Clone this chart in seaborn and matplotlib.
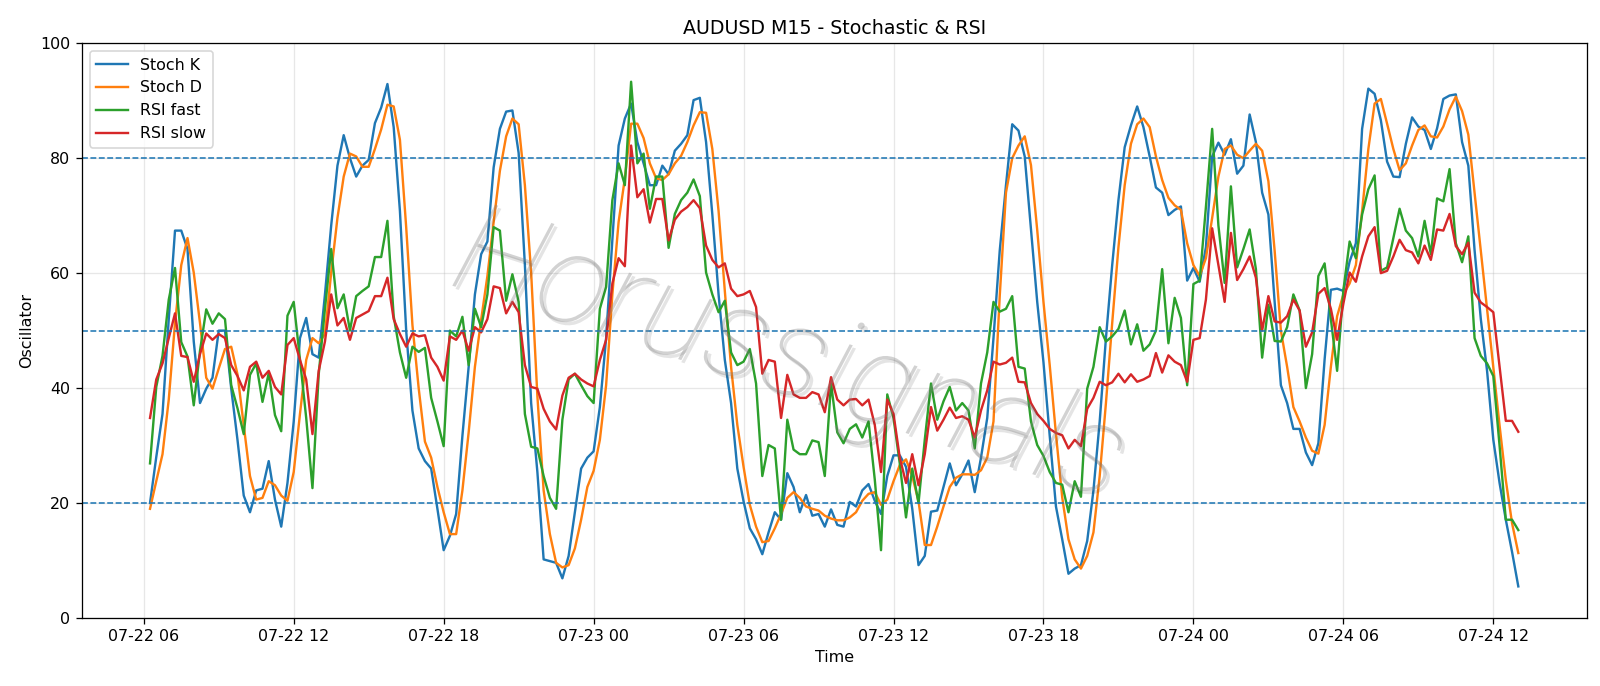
import pandas as pd
import matplotlib
matplotlib.use("Agg")
import matplotlib.pyplot as plt
import matplotlib.dates as mdates
import matplotlib.patheffects as pe
import seaborn as sns

# AUDUSD M15 (220 barras a partir de 07-22 06:15)
stoch_k = [20, 28, 35.5, 52, 67.4, 67.4, 64.2, 48.1, 37.4, 39.9,
           41.8, 50, 50, 39.9, 31, 21.3, 18.4, 22.2, 22.5, 27.3,
           20.6, 15.9, 23.5, 34.2, 48.7, 52.2, 45.9, 45.3, 56.3, 68.3,
           78.7, 84, 80, 76.8, 78.7, 79.7, 86.1, 88.8, 92.9, 85.4,
           70.8, 50, 36.1, 29.5, 27.3, 26, 19, 11.8, 14.3, 18.1,
           31.7, 43.7, 56.3, 63.3, 65.5, 78.4, 85.1, 88.1, 88.3, 80.9,
           61.4, 37.4, 25.4, 10.2, 9.9, 9.6, 6.9, 10.8, 18.4, 26,
           27.9, 29, 36.7, 48.7, 65.8, 82.2, 86.9, 89.5, 82.8, 79.1,
           75.3, 75.3, 78.7, 77.2, 81.3, 82.5, 84, 90.1, 90.5, 82.8,
           70.2, 56.3, 44.9, 37.4, 26, 20.3, 15.6, 13.7, 11.1, 14.9,
           18.4, 17.1, 25.2, 22.8, 18.4, 21.4, 17.8, 18.1, 15.9, 18.9,
           16.2, 15.9, 20.2, 19.4, 22.2, 23.3, 20.4, 18.1, 24.7, 28.3,
           28.3, 26.3, 19, 9.2, 10.8, 18.5, 18.7, 22.8, 26.9, 23.1,
           25, 27.4, 21.9, 27.9, 34.8, 48.7, 63.9, 75.3, 85.9, 84.8,
           80.3, 67.7, 55, 44.5, 31.7, 19.4, 13.7, 7.7, 8.6, 9.2,
           13.4, 22.2, 34.2, 48.7, 61.4, 72.7, 81.9, 85.7, 89, 85.4,
           80.3, 74.9, 74, 70.1, 71, 71.6, 58.7, 60.9, 58.5, 64.5,
           80.3, 82.7, 80.6, 83.3, 77.3, 78.7, 87.6, 82.8, 74, 70.2,
           55, 40.5, 37.4, 32.9, 32.9, 28.8, 26.6, 30.4, 45, 57.1,
           57.3, 56.9, 62, 65.2, 85.1, 92.1, 91.2, 86.6, 79.4, 76.8,
           76.7, 82.5, 87.1, 85.5, 84.9, 81.6, 85.2, 90.3, 90.9, 91.1,
           82.8, 78.7, 64, 52, 43, 31, 23.5, 17.1, 11.5, 5.5]

stoch_d = [19, 23.8, 28.5, 38, 51.3, 61.4, 66.1, 60.1, 51.3, 41.8,
           39.9, 43.4, 46.8, 47.2, 42.4, 33.6, 24.7, 20.6, 20.9, 23.8,
           23.1, 21.3, 20.4, 25.4, 35.5, 44.9, 48.7, 47.8, 49.4, 60.1,
           69.6, 76.8, 80.8, 80.3, 78.5, 78.5, 81.6, 85, 89.3, 89,
           83.2, 68, 51, 40, 30.7, 27.9, 22.8, 18.4, 14.6, 14.6,
           22.2, 32.3, 43.7, 51.9, 59.5, 68.9, 77.8, 83.8, 86.9, 85.9,
           75.3, 60.1, 38.6, 22.2, 14.6, 9.6, 8.8, 9.2, 12.1, 17.1,
           22.8, 25.6, 31, 40.5, 56.3, 68.9, 76.5, 86, 86, 83.5,
           79.1, 76.5, 76.2, 77.2, 79.1, 80.4, 82.8, 85.7, 88, 87.9,
           81.6, 70.8, 56.9, 43.7, 33.6, 26.3, 19.7, 15.9, 13.2, 13.4,
           15.6, 18.1, 20.9, 21.9, 20.9, 19.4, 19, 18.7, 17.8, 17.3,
           17, 17, 17.5, 18.4, 20.4, 21.6, 21.9, 19.7, 20.6, 23.8,
           26.6, 27.6, 24.7, 20.3, 12.7, 12.7, 15.9, 19.4, 22.8, 24.4,
           25, 25, 24.9, 25.7, 27.9, 34.2, 56, 74, 80, 82.2,
           83.8, 78.8, 67.5, 55, 44, 32, 21, 13.7, 10.2, 8.6,
           10.8, 14.9, 24.7, 37.4, 51.3, 64.5, 75.3, 82.5, 85.9, 86.9,
           85.4, 80.3, 76.2, 73.1, 71.8, 71, 65.2, 61.4, 59.5, 62.6,
           69.6, 76.8, 81.6, 82.2, 80.6, 80, 81.3, 82.5, 81.3, 76,
           63.9, 50, 43.7, 36.7, 34.2, 31.4, 29.1, 28.6, 33.6, 43.7,
           52.5, 56.3, 58.2, 61.4, 70.8, 81.6, 89.5, 90.3, 86, 81.6,
           77.9, 79.1, 82.2, 84.9, 85.7, 83.8, 83.6, 85.5, 88.5, 90.7,
           88.2, 84.1, 74, 63.8, 53.7, 43.6, 33.5, 24, 16.5, 11.3]

rsi_fast = [26.9, 40.2, 45.6, 55.4, 60.9, 48, 45.5, 37, 46.5, 53.7,
            51.2, 53, 52, 40.5, 36.5, 32, 42.3, 44.3, 37.6, 42.6,
            35.3, 32.5, 52.6, 55, 45, 34.8, 22.6, 42.4, 53.8, 64.2,
            53.9, 56.3, 50, 56, 56.9, 57.7, 62.8, 62.8, 69.1, 52.5,
            46.2, 41.8, 47.2, 46.3, 47, 38.3, 34.2, 29.9, 50, 49,
            52.4, 44, 53.8, 50.6, 56.3, 68, 67.4, 55.2, 59.8, 55,
            35.5, 29.8, 29.5, 24.7, 20.9, 19, 34.5, 41.5, 42.5, 40.5,
            38.6, 37.4, 53.8, 57.6, 72.7, 79.1, 75.3, 93.3, 79.1, 80.8,
            71.2, 76.8, 76.8, 64.4, 70.3, 72.7, 74, 76.3, 73.4, 60.1,
            56.3, 53.2, 55.2, 46.2, 44, 44.6, 46.8, 40.8, 24.7, 30.1,
            29.5, 17.1, 34.5, 29.3, 28.5, 28.5, 30.9, 30.6, 24.7, 40.8,
            32.3, 30.4, 32.9, 33.7, 31.4, 34.2, 24.1, 11.8, 38.9, 34.8,
            26.9, 17.5, 26, 20, 31, 40.8, 34.5, 37.7, 40.2, 36.1,
            37.4, 36.1, 29.5, 40.8, 46.2, 55, 53.3, 53.8, 56, 43.7,
            43.4, 34.2, 30.1, 28.2, 25.4, 23.5, 23.2, 18.4, 23.8, 21.1,
            39.9, 43.7, 50.6, 48.1, 49, 50.3, 53.5, 47.6, 51.1, 46.5,
            47.6, 50, 60.7, 47.8, 55.7, 52.2, 40.5, 58.1, 58.7, 71.5,
            85.1, 68.3, 58.3, 75.1, 61, 64.2, 67.6, 60.7, 45.3, 54.5,
            48.2, 48.1, 50.6, 56.3, 53.5, 40, 45.9, 59.5, 61.7, 52,
            43, 57, 65.5, 62.6, 70.2, 74.6, 77, 60.4, 61, 66.1,
            71.2, 67.4, 66.1, 62.9, 69.1, 63.3, 73, 72.5, 78.1, 65.2,
            61.9, 66.4, 48.7, 45.6, 44.3, 42.1, 30, 17.1, 17.1, 15.3]

rsi_slow = [34.8, 41.5, 44.3, 48.7, 53, 45.6, 45.4, 41.1, 45.9, 49.5,
            48.4, 49.4, 48.7, 44, 42.1, 39.6, 43.7, 44.6, 41.8, 43,
            40.2, 38.9, 47.5, 48.7, 44.9, 41.5, 32, 43, 48.1, 56.3,
            50.9, 52.2, 48.4, 52.2, 52.8, 53.4, 56, 56, 59.2, 52,
            49.4, 47.2, 49.5, 49, 49.2, 45.3, 43.7, 41.3, 49, 48.4,
            50, 46.5, 50.6, 49.7, 52, 57.7, 57.4, 53, 55, 53.2,
            44, 40.2, 39.9, 36.4, 34.2, 32.8, 38.7, 41.8, 42.5, 41.5,
            40.8, 40.3, 44.9, 48.4, 58.2, 62.6, 61.2, 82.2, 73.2, 74.6,
            68.8, 72.9, 72.9, 65.7, 69.3, 70.7, 71.5, 72.7, 71.3, 64.8,
            62.3, 61, 61.7, 57.3, 56, 56.3, 56.9, 54.1, 42.5, 44.9,
            44.6, 34.8, 42.3, 38.9, 38.3, 38.3, 39.3, 38.9, 35.8, 41.9,
            38, 37, 38, 38.1, 37, 38, 33.6, 25.4, 38, 35.5,
            27.9, 23.5, 28.5, 23.1, 28.5, 36.7, 32.6, 34.5, 36.6, 34.8,
            35.1, 34.5, 31.4, 36.1, 39.6, 44.6, 44.1, 44.4, 45.3, 41.1,
            41, 37.4, 35.5, 34.3, 32.9, 32.2, 31.8, 29.5, 31, 29.9,
            36.4, 38.3, 41.1, 40.5, 41, 42.5, 41, 42.4, 41.1, 41.5,
            42.1, 46.1, 42.7, 45.7, 44.6, 44, 41.1, 48.4, 48.7, 55.4,
            67.8, 61.4, 55, 67, 58.8, 60.7, 62.9, 59.2, 50, 56,
            51.6, 51.4, 52.5, 55.4, 53.5, 47.2, 49.7, 56.4, 57.4, 53.8,
            48.4, 54.7, 60.1, 58.5, 62.9, 66.4, 68, 60, 60.4, 62.9,
            65.8, 64, 63.6, 61.7, 64.8, 62.3, 67.6, 67.4, 70.3, 64.7,
            63.3, 65.3, 56.6, 54.9, 54.1, 53.2, 43.7, 34.3, 34.3, 32.4]

levels = [80, 50, 20]

times = pd.date_range("2025-07-22 06:15", periods=len(stoch_k), freq="15min")
df = pd.DataFrame({"time": times, "Stoch K": stoch_k, "Stoch D": stoch_d,
                   "RSI fast": rsi_fast, "RSI slow": rsi_slow})

dpi = 1600 / 14
fig, ax = plt.subplots(figsize=(14, 686 / dpi), dpi=dpi)
fig.subplots_adjust(left=0.051, right=0.9917, bottom=0.0991, top=0.937)

colors = ["C0", "C1", "C2", "C3"]
for col, c in zip(["Stoch K", "Stoch D", "RSI fast", "RSI slow"], colors):
    sns.lineplot(data=df, x="time", y=col, ax=ax, color=c, label=col, linewidth=1.5)

for lv in levels:
    ax.axhline(lv, color="C0", linestyle="--", linewidth=1)

ax.set_ylim(0, 100)
ax.xaxis.set_major_locator(mdates.HourLocator(byhour=[0, 6, 12, 18]))
ax.xaxis.set_major_formatter(mdates.DateFormatter("%m-%d %H"))
ax.grid(True, alpha=0.3)
ax.set_title("AUDUSD M15 - Stochastic & RSI")
ax.set_xlabel("Time")
ax.set_ylabel("Oscillator")
ax.legend(loc="upper left")

# marca d'agua
ax.text(0.47, 0.45, "Horussignals", transform=ax.transAxes, fontsize=80,
        family=["Roboto", "DejaVu Sans"], fontweight="light", fontstyle="italic",
        color="gray", alpha=0.35, rotation=-18, ha="center", va="center",
        path_effects=[pe.SimplePatchShadow(offset=(2, -2), alpha=0.12), pe.Normal()])

fig.savefig("out.png", dpi=dpi)
